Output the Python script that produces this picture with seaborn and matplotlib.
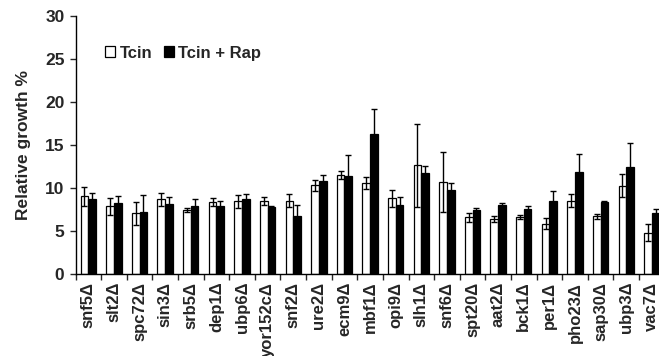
import matplotlib
matplotlib.use("Agg")
import matplotlib.pyplot as plt
import matplotlib.patches as mpatches
import numpy as np
import pandas as pd
import seaborn as sns

# strains and relative growth values
strains = ["snf5Δ", "slt2Δ", "spc72Δ", "sin3Δ", "srb5Δ", "dep1Δ", "ubp6Δ",
           "yor152cΔ", "snf2Δ", "ure2Δ", "ecm9Δ", "mbf1Δ", "opi9Δ", "slh1Δ",
           "snf6Δ", "spt20Δ", "aat2Δ", "bck1Δ", "per1Δ", "pho23Δ", "sap30Δ",
           "ubp3Δ", "vac7Δ"]
tcin = [9.0, 7.85, 7.0, 8.65, 7.4, 8.3, 8.4, 8.45, 8.5, 10.3, 11.5, 10.55,
        8.75, 12.6, 10.65, 6.55, 6.3, 6.55, 5.8, 8.5, 6.65, 10.25, 4.75]
tcin_err = [1.1, 1.0, 1.35, 0.75, 0.2, 0.45, 0.75, 0.5, 0.8, 0.65, 0.45, 0.75,
            0.95, 4.8, 3.45, 0.55, 0.35, 0.25, 0.65, 0.8, 0.25, 1.35, 1.0]
tcin_rap = [8.65, 8.25, 7.15, 8.05, 7.85, 7.85, 8.65, 7.8, 6.65, 10.8, 11.4,
            16.3, 8.0, 11.7, 9.75, 7.45, 7.95, 7.55, 8.45, 11.85, 8.35, 12.45, 7.0]
rap_err = [0.7, 0.8, 2.05, 0.85, 0.8, 0.6, 0.6, 0.05, 1.3, 0.65, 2.35, 2.9,
           0.9, 0.85, 0.75, 0.15, 0.25, 0.3, 1.15, 2.05, 0.15, 2.7, 0.55]
groups = ["Tcin", "Tcin + Rap"]

df = pd.DataFrame({
    "strain": strains * 2,
    "group": [groups[0]] * len(strains) + [groups[1]] * len(strains),
    "value": tcin + tcin_rap,
    "err": tcin_err + rap_err,
})

sns.set_style("white")
plt.rcParams["font.family"] = ["Liberation Sans", "DejaVu Sans"]
plt.rcParams["font.weight"] = "bold"

fig = plt.figure(figsize=(6.59, 3.56), dpi=100)
# axis runs past the right edge like the cropped original
ax = fig.add_axes([0.1146, 0.2317, 0.894, 0.7233])

sns.barplot(data=df, x="strain", y="value", hue="group", hue_order=groups,
            palette=["white", "black"], edgecolor="black", linewidth=0.9,
            width=0.6, errorbar=None, legend=False, ax=ax)

# error bars at the bar centres
for cont, g in zip(ax.containers, groups):
    sub = df[df["group"] == g]
    xs = [p.get_x() + p.get_width() / 2 for p in cont.patches]
    ax.errorbar(xs, sub["value"], yerr=sub["err"], fmt="none",
                ecolor="black", elinewidth=1, capsize=2.2, capthick=1)

ax.set_xlim(-0.5, len(strains) - 0.5)
ax.set_ylim(0, 30)
ax.set_yticks(np.arange(0, 31, 5))
ax.set_xlabel("")
ax.set_ylabel("Relative growth %", fontsize=12.5, fontweight="bold", labelpad=10)
ax.tick_params(axis="y", direction="out", length=4, width=1, labelsize=12.5, pad=4)
ax.tick_params(axis="x", which="major", length=0, labelsize=12, pad=6)
ax.set_xticks(np.arange(-0.5, len(strains), 1), minor=True)
ax.tick_params(axis="x", which="minor", direction="out", length=4, width=1)
plt.setp(ax.get_xticklabels(), rotation=90, fontweight="bold")
plt.setp(ax.get_yticklabels(), fontweight="bold")
ax.yaxis.set_ticks_position("left")
ax.xaxis.set_ticks_position("bottom")

for s in ["top", "right"]:
    ax.spines[s].set_visible(False)
for s in ["left", "bottom"]:
    ax.spines[s].set_color("black")
    ax.spines[s].set_linewidth(1)

handles = [mpatches.Patch(facecolor="white", edgecolor="black", linewidth=0.9),
           mpatches.Patch(facecolor="black", edgecolor="black", linewidth=0.9)]
ax.legend(handles, groups, loc="center left", bbox_to_anchor=(0.025, 0.856),
          ncol=2, frameon=False, handlelength=0.6, handleheight=0.6,
          handletextpad=0.25, columnspacing=0.7,
          prop={"weight": "bold", "size": 12})

fig.savefig("out.png", dpi=100)
